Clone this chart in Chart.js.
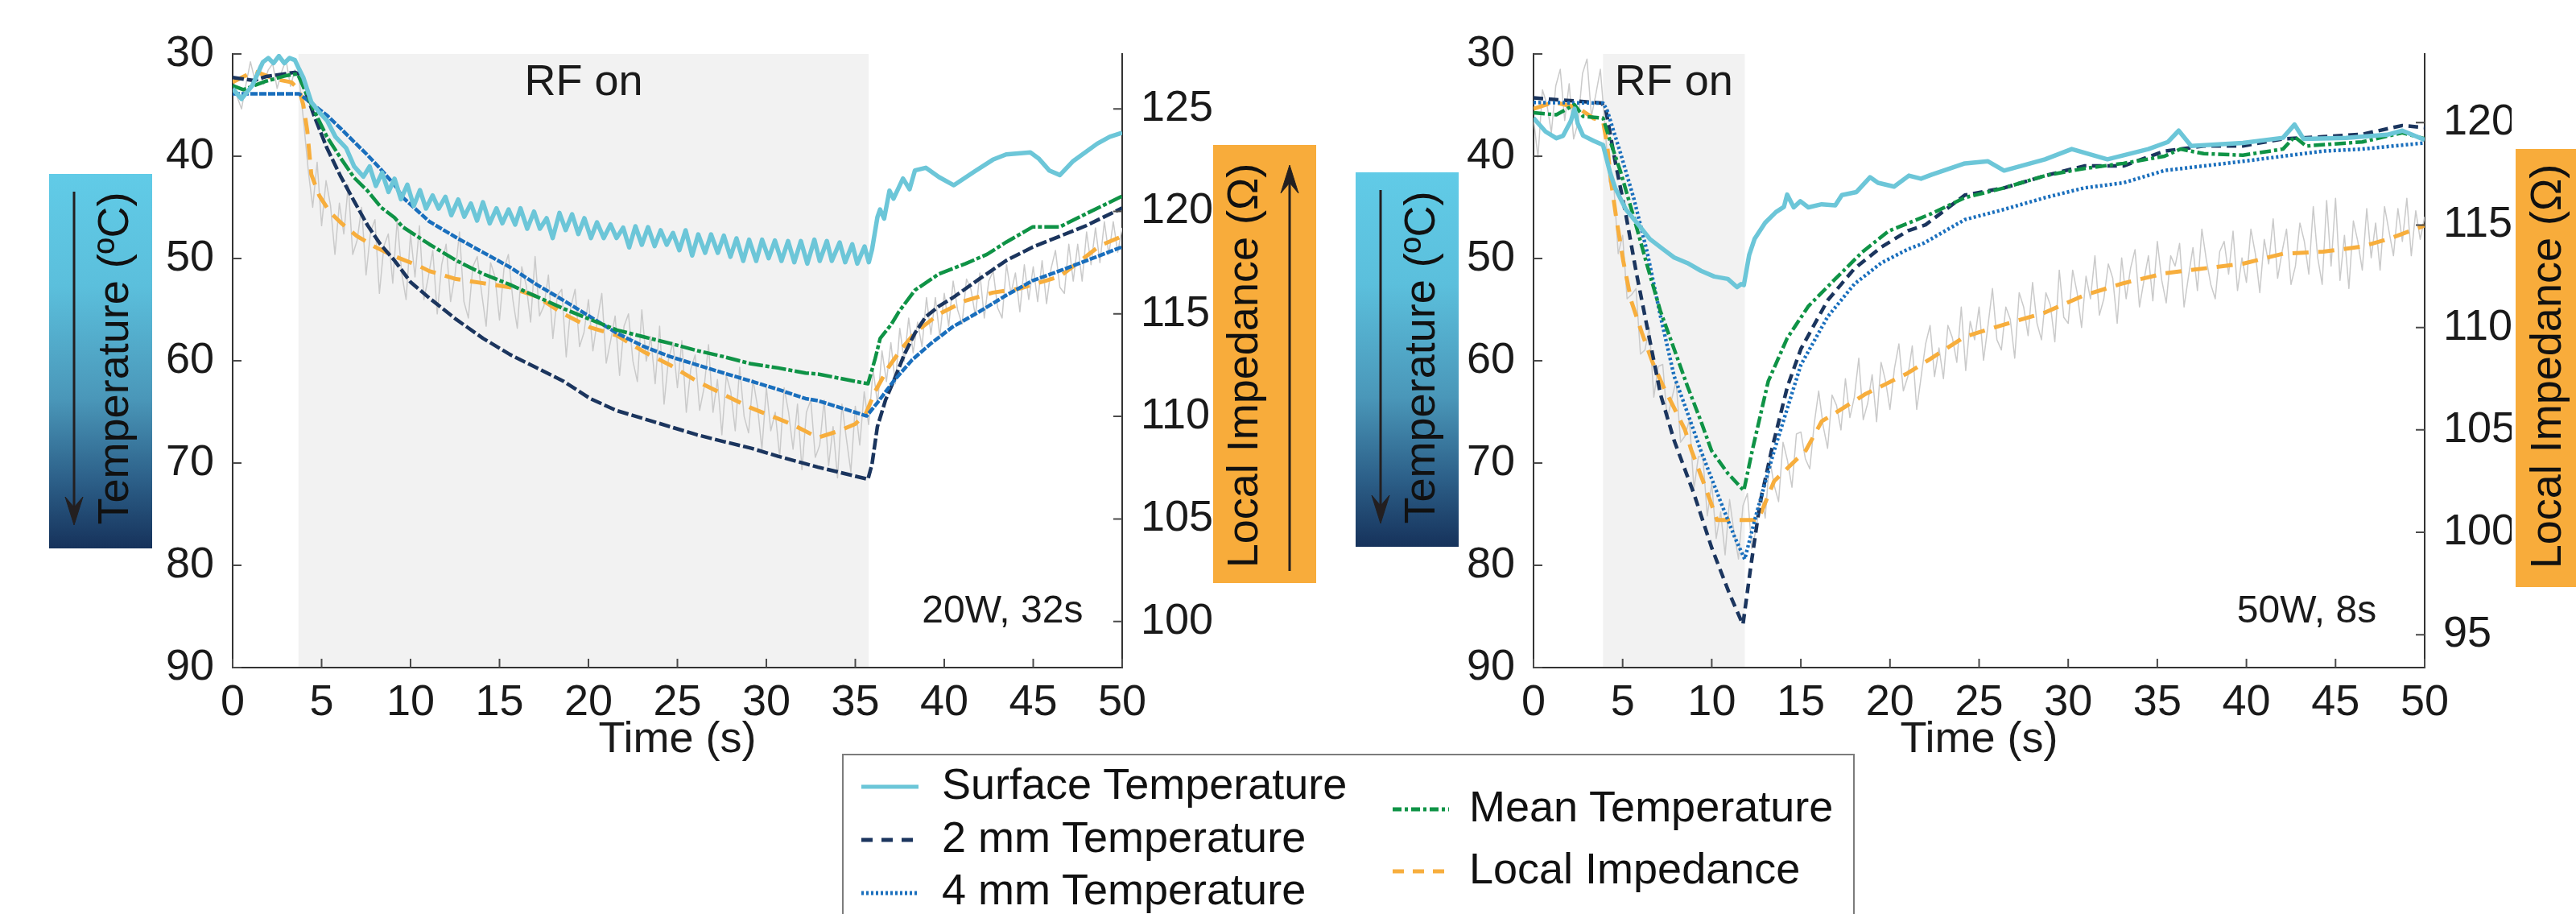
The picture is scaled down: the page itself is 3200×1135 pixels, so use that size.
<!DOCTYPE html>
<html>
<head>
<meta charset="utf-8">
<script src="https://cdn.jsdelivr.net/npm/chart.js@4.4.0/dist/chart.umd.min.js"></script>
<style>
  html, body { margin: 0; padding: 0; background: #fff; }
  body { width: 3200px; height: 1135px; position: relative; overflow: hidden;
         font-family: "Liberation Sans", Arial, Helvetica, sans-serif; color: #111; }
  canvas { position: absolute; top: 0; }
  .box { position: absolute; z-index: 2; }
  .tempBox { background: linear-gradient(to bottom, #61cbe7 0%, #5bbfdc 30%, #4a97b9 60%, #2c5f88 82%, #16325b 100%); }
  .impBox { background: #f8ac3b; }
  .vlabel { position: absolute; z-index: 3; white-space: nowrap; font-size: 54px; line-height: 54px;
            transform: translate(-50%, -50%) rotate(-90deg); color: #111; }
  .arrow { position: absolute; z-index: 3; left: 0; top: 0; }
  #legend { position: absolute; z-index: 2; left: 1046px; top: 936px; width: 1254px; height: 260px;
            border: 2px solid #7c7c7c; background: #fff; }
  .lg { position: absolute; z-index: 3; font-size: 54px; line-height: 54px; white-space: nowrap; color: #111; }
</style>
</head>
<body>
<canvas id="left" width="1640" height="960" style="left:0px"></canvas>
<canvas id="right" width="1420" height="960" style="left:1700px"></canvas>

<!-- colour-coded axis labels -->
<div class="box tempBox" style="left:61px; top:216px; width:128px; height:465px"></div>
<div class="vlabel" style="left:140px; top:445px">Temperature (ºC)</div>
<div class="box impBox" style="left:1507px; top:180px; width:128px; height:544px"></div>
<div class="vlabel" style="left:1543px; top:454px">Local Impedance (Ω)</div>

<div class="box tempBox" style="left:1684px; top:214px; width:128px; height:465px"></div>
<div class="vlabel" style="left:1763px; top:444px">Temperature (ºC)</div>
<div class="box impBox" style="left:3125px; top:185px; width:128px; height:544px"></div>
<div class="vlabel" style="left:3162px; top:455px">Local Impedance (Ω)</div>

<svg class="arrow" width="3200" height="1135">
  <g fill="#231f20" stroke="#231f20">
    <line x1="92" y1="238" x2="92" y2="636" stroke-width="3"/>
    <polygon points="92,652 81,617 92,630 103,617" stroke-width="1"/>
    <line x1="1715" y1="236" x2="1715" y2="634" stroke-width="3"/>
    <polygon points="1715,650 1704,615 1715,628 1726,615" stroke-width="1"/>
    <line x1="1602" y1="709" x2="1602" y2="221" stroke-width="3"/>
    <polygon points="1602,205 1591,240 1602,227 1613,240" stroke-width="1"/>
  </g>
</svg>

<!-- legend -->
<div id="legend"></div>
<svg class="arrow" width="3200" height="1135" style="z-index:4">
  <line x1="1070" y1="977" x2="1141" y2="977" stroke="#6cc6d8" stroke-width="5"/>
  <line x1="1070" y1="1043" x2="1141" y2="1043" stroke="#1b355e" stroke-width="5" stroke-dasharray="14 11"/>
  <line x1="1070" y1="1109" x2="1141" y2="1109" stroke="#1a6fbd" stroke-width="5" stroke-dasharray="3 3"/>
  <line x1="1730" y1="1005" x2="1800" y2="1005" stroke="#0f9346" stroke-width="5" stroke-dasharray="11 4 4 4"/>
  <line x1="1730" y1="1082" x2="1800" y2="1082" stroke="#f7ae3d" stroke-width="5" stroke-dasharray="14 11"/>
</svg>
<div class="lg" style="left:1170px; top:946px">Surface Temperature</div>
<div class="lg" style="left:1170px; top:1012px">2 mm Temperature</div>
<div class="lg" style="left:1170px; top:1077px">4 mm Temperature</div>
<div class="lg" style="left:1825px; top:974px">Mean Temperature</div>
<div class="lg" style="left:1825px; top:1051px">Local Impedance</div>

<script>
// ---- axis ticks ----
const timeTicks = [0, 5, 10, 15, 20, 25, 30, 35, 40, 45, 50];
const tempTicks = [30, 40, 50, 60, 70, 80, 90];
const leftImpTicks = [100, 105, 110, 115, 120, 125];
const rightImpTicks = [95, 100, 105, 110, 115, 120];

// ---- 20 W, 32 s ablation (left panel) ----  [time s, value]
const leftRF = [3.7, 35.75];
const leftSurface = [
  [0, 33.4], [0.5, 34.4], [1.1, 33.1], [1.7, 30.8], [2.0, 30.4], [2.3, 30.9], [2.6, 30.2], [2.9, 30.9],
  [3.2, 30.4], [3.5, 30.6], [3.74, 31.5], [3.97, 32.3], [4.42, 34.7], [4.87, 35.7], [5.3, 36.5], [5.78, 38.1],
  [6.38, 39.2], [6.83, 41.0], [7.35, 42.0], [7.7, 41.0], [8.05, 42.9], [8.4, 41.6], [8.76, 43.5], [9.1, 42.2],
  [9.46, 44.2], [9.82, 42.78], [10.18, 44.86], [10.53, 43.31], [10.87, 45.12], [11.24, 43.83], [11.58, 45.12],
  [11.96, 43.96], [12.29, 45.77], [12.68, 44.23], [13.02, 45.91], [13.39, 44.62], [13.74, 46.3], [14.07, 44.49],
  [14.45, 46.56], [14.83, 45.09], [15.16, 46.56], [15.51, 45.2], [15.88, 46.69], [16.18, 45.09], [16.56, 47.09],
  [16.94, 45.41], [17.27, 47.09], [17.65, 46.06], [17.99, 48.0], [18.37, 45.54], [18.72, 47.22], [19.08, 45.67],
  [19.43, 47.61], [19.77, 46.06], [20.14, 48.0], [20.48, 46.46], [20.86, 48.0], [21.24, 46.67], [21.58, 48.0],
  [21.95, 46.98], [22.29, 48.92], [22.64, 46.85], [23.0, 48.66], [23.35, 46.93], [23.72, 48.79], [24.06, 47.24],
  [24.4, 48.66], [24.75, 47.5], [25.11, 49.19], [25.46, 47.24], [25.83, 49.71], [26.17, 47.64], [26.56, 49.45],
  [26.89, 47.64], [27.27, 49.45], [27.61, 47.77], [27.98, 49.84], [28.32, 48.03], [28.7, 50.24], [29.03, 48.16],
  [29.43, 50.24], [29.76, 48.16], [30.13, 49.97], [30.48, 48.24], [30.85, 50.24], [31.22, 48.29], [31.57, 50.37],
  [31.94, 48.29], [32.3, 50.5], [32.7, 48.16], [33.0, 50.24], [33.4, 48.29], [33.68, 50.24], [34.12, 48.43],
  [34.43, 50.37], [34.83, 48.61], [35.11, 50.5], [35.52, 48.82], [35.76, 50.37], [35.94, 49.13], [36.24, 45.98],
  [36.39, 45.2], [36.62, 46.1], [36.92, 43.36], [37.15, 44.15], [37.68, 42.18], [38.05, 43.23], [38.35, 41.39],
  [38.96, 41.13], [39.71, 42.05], [40.54, 42.84], [41.68, 41.52], [42.73, 40.34], [43.48, 39.82], [44.84, 39.63],
  [45.3, 40.21], [45.9, 41.39], [46.5, 41.84], [47.25, 40.47], [48.6, 38.77], [49.3, 38.1], [50, 37.7]
];
const left2mm = [
  [0, 32.3], [1.2, 32.6], [1.9, 32.2], [3.5, 31.8], [3.74, 31.95], [4.57, 36.0], [5.3, 39.2], [6.08, 42.0],
  [6.83, 44.4], [7.6, 46.8], [8.3, 48.6], [9.1, 50.2], [10.0, 52.3], [11.05, 53.86], [12.57, 55.96], [14.07, 57.8],
  [15.58, 59.38], [17.09, 60.69], [18.6, 62.0], [20.1, 63.7], [21.6, 64.88], [23.1, 65.66], [24.6, 66.45],
  [26.1, 67.24], [27.6, 67.9], [29.15, 68.55], [30.66, 69.34], [32.2, 70.07], [32.9, 70.4], [35.71, 71.58],
  [35.94, 70.1], [36.24, 66.45], [36.7, 63.83], [37.15, 62.0], [37.75, 59.4], [38.35, 57.3], [38.96, 55.7],
  [39.71, 54.65], [40.46, 53.86], [41.97, 52.0], [43.48, 50.2], [44.98, 48.87], [46.5, 47.82], [48.0, 46.77], [50, 45.06]
];
const left4mm = [
  [0, 33.9], [3.74, 33.9], [4.57, 35.0], [5.3, 36.0], [6.08, 37.3], [6.83, 38.6], [7.59, 39.9], [8.34, 41.3],
  [9.1, 42.8], [9.55, 44.0], [11.05, 46.38], [12.57, 47.95], [14.07, 49.4], [15.58, 50.84], [17.09, 52.55],
  [18.6, 54.1], [20.1, 55.7], [21.6, 57.3], [23.1, 58.6], [24.6, 59.6], [26.1, 60.4], [27.6, 61.2], [29.15, 62.0],
  [30.66, 62.8], [32.2, 63.7], [32.9, 63.9], [35.64, 65.4], [36.24, 64.1], [37.15, 62.0], [38.2, 59.9],
  [39.26, 58.3], [40.46, 56.7], [41.97, 55.2], [43.48, 53.6], [44.98, 52.15], [46.5, 51.2], [48.0, 50.2], [50, 48.87]
];
const leftMean = [
  [0, 33.1], [0.6, 33.5], [1.8, 32.7], [3.05, 32.1], [3.65, 31.95], [4.57, 35.5], [5.3, 38.1], [6.08, 40.2],
  [6.83, 42.1], [7.59, 43.4], [8.34, 45.0], [9.1, 46.0], [9.55, 46.9], [11.05, 48.6], [12.57, 50.2], [14.07, 51.5],
  [15.58, 52.55], [17.09, 53.73], [18.6, 54.9], [20.1, 55.96], [21.6, 57.0], [23.1, 57.66], [24.6, 58.3],
  [26.1, 59.0], [27.6, 59.6], [29.15, 60.3], [30.66, 60.7], [32.2, 61.2], [32.9, 61.3], [35.71, 62.25],
  [36.1, 59.9], [36.4, 57.8], [37.0, 56.5], [37.45, 55.2], [38.35, 53.1], [39.71, 51.5], [41.2, 50.5],
  [42.4, 49.6], [43.48, 48.4], [44.98, 46.9], [46.5, 46.9], [48.0, 45.6], [50, 43.9]
];
const leftImpedance = [
  [0, 126.3], [1.2, 126.84], [1.8, 126.65], [2.4, 126.45], [3.3, 126.3], [3.74, 125.93], [3.97, 125.2],
  [4.2, 123.9], [4.42, 121.8], [4.87, 120.77], [5.45, 119.98], [6.08, 119.45], [6.98, 118.8], [8.0, 118.27],
  [9.1, 117.81], [10.45, 117.35], [11.05, 117.09], [12.57, 116.7], [14.07, 116.5], [15.58, 116.3],
  [17.09, 115.85], [18.6, 115.0], [20.1, 114.34], [21.6, 113.95], [23.1, 113.16], [24.6, 112.5], [26.1, 111.72],
  [27.6, 111.07], [29.15, 110.41], [30.66, 109.89], [31.4, 109.63], [32.9, 108.97], [34.1, 109.3], [35.0, 109.63],
  [35.6, 110.15], [36.1, 111.2], [36.85, 112.38], [37.6, 113.3], [38.35, 114.08], [39.71, 115.0], [41.2, 115.65],
  [42.73, 116.04], [44.24, 116.24], [45.74, 116.63], [46.5, 116.83], [47.7, 117.62], [48.75, 118.33], [50, 118.79]
];
// raw impedance, sampled every 0.25 s from t = 0
const leftRawImpedance = [
  126.5, 125.6, 125.0, 126.2, 127.3, 126.4, 127.1, 126.2, 126.9, 127.2, 126.0, 126.8, 127.4, 126.1, 126.9, 126.4, 124.3, 122.0, 120.2, 122.4,
  119.3, 121.5, 120.3, 117.9, 120.4, 118.9, 121.3, 117.9, 118.6, 120.2, 116.9, 119.0, 119.6, 116.0, 118.3, 118.9, 116.5, 119.6, 117.0, 115.7,
  118.9, 116.8, 119.3, 115.7, 116.8, 118.1, 115.0, 117.4, 118.4, 115.6, 116.9, 119.0, 115.6, 114.8, 117.3, 117.8, 116.0, 114.4, 117.5, 116.8,
  114.7, 117.2, 117.9, 115.7, 114.3, 117.3, 116.4, 114.6, 117.8, 114.9, 115.4, 116.9, 113.8, 115.9, 116.2, 112.9, 115.3, 116.2, 113.4, 114.1,
  115.7, 113.2, 114.7, 116.0, 112.6, 113.7, 114.9, 112.0, 114.4, 115.0, 112.7, 111.7, 115.2, 112.7, 113.9, 111.6, 114.4, 110.6, 112.8, 113.6,
  111.4, 113.7, 110.2, 112.3, 113.0, 110.3, 111.4, 113.5, 110.2, 111.8, 109.1, 112.0, 111.2, 109.3, 112.4, 110.0, 109.2, 111.8, 110.5, 108.4,
  111.4, 109.3, 110.2, 108.0, 111.4, 110.2, 108.4, 110.6, 107.4, 110.2, 110.8, 108.0, 108.6, 110.8, 107.6, 109.5, 107.0, 110.6, 108.9, 107.3,
  110.5, 108.6, 111.2, 109.6, 112.3, 110.6, 113.2, 111.7, 113.6, 111.6, 114.3, 112.7, 114.8, 113.1, 114.6, 113.4, 115.8, 114.0, 115.8, 113.9,
  116.0, 114.4, 116.6, 115.2, 114.5, 116.7, 116.2, 114.9, 117.0, 114.8, 116.6, 117.1, 115.3, 114.8, 117.4, 116.0, 117.0, 115.1, 117.4, 115.7,
  117.3, 115.6, 117.6, 115.5, 117.2, 118.1, 116.3, 116.0, 118.4, 116.6, 118.4, 116.6, 119.0, 117.4, 119.2, 117.5, 119.5, 117.9, 119.5, 118.0,
  119.2
];

// ---- 50 W, 8 s ablation (right panel) ----
const rightRF = [3.9, 11.85];
const rightSurface = [
  [0, 36.27], [0.68, 37.6], [1.28, 38.24], [1.66, 38.0], [2.11, 36.5], [2.3, 35.35], [2.48, 36.8], [2.78, 37.98],
  [3.38, 38.5], [3.9, 38.9], [4.28, 41.5], [4.58, 43.1], [5.18, 45.2], [5.93, 46.8], [6.53, 48.1], [7.28, 49.1],
  [7.89, 49.9], [8.64, 50.45], [9.39, 51.2], [10.14, 51.76], [10.9, 52.0], [11.42, 52.8], [11.65, 52.5],
  [11.8, 52.6], [12.1, 49.66], [12.4, 48.1], [13.0, 46.5], [13.6, 45.46], [14.05, 44.95], [14.23, 43.75],
  [14.6, 45.0], [14.97, 44.4], [15.42, 45.0], [16.17, 44.7], [16.93, 44.8], [17.3, 43.8], [18.12, 43.5],
  [18.88, 42.05], [19.33, 42.6], [20.23, 42.97], [21.06, 41.9], [21.74, 42.2], [22.34, 41.8], [24.2, 40.7],
  [25.5, 40.5], [26.4, 41.4], [28.7, 40.3], [30.2, 39.3], [32.2, 40.3], [34.5, 39.3], [35.6, 38.6], [36.2, 37.5],
  [36.9, 39.0], [39.8, 38.7], [42.05, 38.2], [42.7, 36.9], [43.2, 38.3], [45.6, 38.2], [47.9, 37.9],
  [48.75, 37.5], [50, 38.4]
];
const right2mm = [
  [0, 34.3], [3.83, 34.8], [4.06, 35.5], [4.58, 40.5], [5.18, 45.7], [5.78, 51.5], [6.38, 56.75], [7.13, 63.3],
  [7.89, 67.8], [9.0, 73.0], [10.0, 78.3], [11.0, 82.8], [11.75, 85.8], [12.2, 80.0], [12.7, 74.0], [13.35, 68.8],
  [14.25, 62.5], [15.0, 58.85], [16.5, 54.1], [18.0, 51.0], [19.5, 48.9], [21.0, 47.3], [22.0, 46.7], [24.2, 43.8],
  [26.4, 43.1], [28.7, 41.9], [30.9, 40.95], [33.1, 40.95], [35.4, 39.5], [37.6, 39.0], [39.8, 39.0], [42.05, 38.3],
  [44.3, 38.1], [46.5, 37.85], [48.75, 37.0], [50, 37.2]
];
const right4mm = [
  [0, 34.75], [3.9, 34.8], [4.13, 35.5], [4.88, 39.7], [5.63, 44.15], [6.38, 49.4], [7.13, 55.7], [7.89, 61.5],
  [8.64, 65.1], [9.39, 68.8], [10.5, 73.8], [11.3, 77.3], [11.85, 79.4], [12.5, 75.0], [13.5, 68.8], [14.25, 64.6],
  [15.0, 60.4], [16.5, 55.7], [18.0, 52.5], [19.5, 50.45], [21.0, 49.1], [21.9, 48.5], [24.2, 46.2], [26.4, 45.2],
  [28.7, 44.05], [30.9, 43.1], [33.1, 42.6], [35.4, 41.4], [37.6, 40.95], [39.8, 40.5], [42.05, 40.0],
  [44.3, 39.5], [46.5, 39.3], [50, 38.7]
];
const rightMean = [
  [0, 35.75], [1.28, 35.95], [2.3, 34.96], [2.78, 36.1], [3.9, 36.27], [4.28, 38.4], [4.88, 41.5], [5.63, 46.0],
  [6.38, 50.7], [7.13, 55.2], [7.89, 58.85], [8.64, 62.5], [9.39, 65.9], [9.99, 68.8], [10.9, 71.0], [11.8, 72.7],
  [12.27, 68.8], [13.17, 62.0], [14.23, 57.8], [15.43, 54.65], [16.93, 52.0], [18.43, 49.4], [19.94, 47.3],
  [21.44, 46.25], [22.34, 45.6], [24.2, 44.05], [26.4, 43.1], [28.7, 41.9], [30.9, 41.2], [33.1, 40.7],
  [35.4, 40.0], [36.3, 39.3], [37.6, 39.75], [39.8, 39.9], [42.05, 39.3], [42.7, 38.1], [43.35, 39.0],
  [46.5, 38.6], [48.75, 37.7], [50, 38.3]
];
const rightImpedance = [
  [0, 120.67], [1.13, 121.0], [2.48, 120.73], [3.38, 120.2], [3.9, 120.08], [4.13, 118.9], [4.36, 117.07],
  [4.66, 115.24], [5.03, 113.27], [5.48, 111.3], [6.08, 109.74], [6.68, 108.3], [7.28, 107.12], [7.89, 106.07],
  [8.49, 105.02], [8.86, 104.0], [9.6, 102.3], [10.3, 100.6], [12.6, 100.6], [13.5, 102.5], [15.28, 104.0],
  [16.17, 105.42], [17.38, 106.07], [18.58, 106.73], [19.79, 107.25], [20.99, 107.77], [22.2, 108.43],
  [24.2, 109.55], [26.4, 110.14], [28.7, 110.73], [30.9, 111.57], [33.1, 112.16], [35.4, 112.64], [37.6, 112.88],
  [39.8, 113.11], [42.05, 113.6], [44.3, 113.7], [46.5, 113.95], [47.9, 114.3], [50, 114.97]
];
const rightRawImpedance = [
  120.2, 118.3, 121.6, 120.9, 119.5, 121.8, 122.6, 120.1, 121.9, 119.2, 120.0, 122.4, 123.1, 120.3, 121.4, 122.6, 119.9, 117.1, 117.0, 113.6,
  114.5, 111.4, 111.6, 111.9, 108.7, 108.9, 110.0, 106.6, 108.1, 108.2, 105.5, 106.5, 107.4, 104.4, 104.7, 105.5, 102.1, 103.7, 103.7, 100.8,
  102.4, 99.7, 101.0, 98.9, 101.6, 100.0, 98.7, 101.3, 101.9, 99.2, 100.2, 102.0, 100.7, 103.6, 102.3, 101.5, 104.4, 103.5, 102.2, 104.8,
  104.9, 103.6, 103.1, 105.3, 106.9, 105.2, 104.1, 106.7, 106.2, 105.0, 107.5, 105.6, 106.6, 108.5, 105.5, 106.3, 107.7, 105.4, 108.3, 107.4,
  106.0, 108.0, 109.2, 106.9, 107.6, 109.1, 106.0, 107.6, 109.2, 110.1, 107.6, 109.0, 107.5, 110.1, 109.5, 108.3, 111.0, 107.9, 110.3, 109.4,
  111.0, 108.4, 110.1, 111.9, 109.4, 108.9, 111.0, 110.4, 108.5, 111.7, 111.0, 109.6, 112.2, 110.2, 109.4, 111.7, 111.1, 109.3, 112.8, 110.5,
  110.2, 112.8, 111.7, 110.0, 112.5, 111.4, 113.5, 110.6, 111.4, 113.1, 112.4, 110.2, 113.4, 111.4, 112.9, 113.8, 111.0, 112.3, 113.5, 111.3,
  114.2, 112.3, 111.2, 113.5, 113.0, 114.1, 111.0, 112.5, 113.9, 111.8, 114.8, 113.3, 112.1, 111.4, 113.7, 114.2, 112.6, 114.7, 111.8, 113.4,
  112.2, 114.8, 113.6, 111.7, 114.3, 113.1, 115.3, 112.4, 113.7, 114.8, 112.1, 113.0, 115.1, 114.2, 112.6, 115.9, 113.4, 112.1, 116.2, 113.0,
  116.3, 112.3, 114.5, 111.9, 115.2, 114.2, 112.8, 115.8, 113.4, 115.1, 112.8, 115.9, 114.7, 113.5, 115.8, 114.2, 116.3, 113.5, 115.7, 114.3,
  115.4
];
const rawStep = 0.25;

const FONT = '"Liberation Sans", Arial, Helvetica, sans-serif';
const INK = '#1a1a1a';

/**
 * Grey "RF on" window, drawn under everything
 */
const rfShade = {
  id: 'rfShade',
  beforeDraw(chart, args, opts) {
    const {ctx, chartArea: a, scales: {x}} = chart;
    const x0 = x.getPixelForValue(opts.from);
    const x1 = x.getPixelForValue(opts.to);
    ctx.save();
    ctx.fillStyle = '#f2f2f2';
    ctx.fillRect(x0, a.top, x1 - x0, a.bottom - a.top);
    ctx.restore();
  }
};

/**
 * MATLAB-style inward tick marks plus the text annotations
 */
const decorations = {
  id: 'decorations',
  afterDraw(chart, args, opts) {
    const {ctx, chartArea: a, scales} = chart;
    ctx.save();
    ctx.strokeStyle = '#4a4a4a';
    ctx.lineWidth = 2;
    ctx.beginPath();
    ['x', 'y', 'y2'].forEach(id => {
      const s = scales[id];
      s.ticks.forEach(t => {
        const p = s.getPixelForValue(t.value);
        if (id === 'x') { ctx.moveTo(p, a.bottom); ctx.lineTo(p, a.bottom - 11); }
        else if (id === 'y') { ctx.moveTo(a.left, p); ctx.lineTo(a.left + 11, p); }
        else { ctx.moveTo(a.right, p); ctx.lineTo(a.right - 11, p); }
      });
    });
    ctx.stroke();

    ctx.fillStyle = INK;
    ctx.textBaseline = 'alphabetic';
    ctx.font = '54px ' + FONT;
    ctx.textAlign = 'center';
    const xs = scales.x;
    ctx.fillText('RF on', (xs.getPixelForValue(opts.rf[0]) + xs.getPixelForValue(opts.rf[1])) / 2, a.top + 51);
    ctx.font = '48px ' + FONT;
    ctx.textAlign = 'right';
    ctx.fillText(opts.note, xs.getPixelForValue(opts.noteAt), scales.y.getPixelForValue(85.6));
    ctx.restore();
  }
};

function pts(pairs) {
  return pairs.map(p => ({x: p[0], y: p[1]}));
}

function sampled(values) {
  return values.map((v, i) => ({x: i * rawStep, y: v}));
}

function line(data, color, width, dash, axis) {
  return {
    data: data,
    borderColor: color,
    borderWidth: width,
    borderDash: dash || [],
    borderJoinStyle: 'round',
    pointRadius: 0,
    fill: false,
    tension: 0,
    yAxisID: axis || 'y'
  };
}

function tickFont() {
  return {family: FONT, size: 54};
}

/**
 * Build one panel
 */
function makePanel(canvasId, s, opts) {
  const canvas = document.getElementById(canvasId);
  return new Chart(canvas, {
    type: 'line',
    data: {
      datasets: [
        line(pts(s.surface), '#6cc6d8', 5.5),
        line(pts(s.mean), '#0f9346', 4.5, opts.dash.mean),
        line(pts(s.mm4), '#1a6fbd', 4.5, opts.dash.mm4),
        line(pts(s.mm2), '#1b355e', 4.5, opts.dash.mm2),
        line(pts(s.imp), '#f7ae3d', 5, [20, 12], 'y2'),
        line(sampled(s.raw), '#cacaca', 1.5, null, 'y2')
      ]
    },
    options: {
      responsive: false,
      devicePixelRatio: 1,
      animation: false,
      layout: {padding: {top: 67, left: 0, right: 0, bottom: 0}},
      plugins: {
        legend: {display: false},
        tooltip: {enabled: false},
        rfShade: {from: opts.rf[0], to: opts.rf[1]},
        decorations: {rf: opts.rf, note: opts.note, noteAt: opts.noteAt}
      },
      scales: {
        x: {
          type: 'linear', min: 0, max: 50,
          afterBuildTicks: sc => { sc.ticks = timeTicks.map(v => ({value: v})); },
          afterFit: sc => { sc.height = 131; },
          grid: {display: false},
          border: {display: true, color: '#333', width: 2},
          ticks: {font: tickFont(), color: INK, padding: 4, maxRotation: 0, autoSkip: false},
          title: {display: true, text: 'Time (s)', font: tickFont(), color: INK, padding: {top: 0, bottom: 8}}
        },
        y: {
          type: 'linear', position: 'left', reverse: true, min: 30, max: 90,
          afterBuildTicks: sc => { sc.ticks = tempTicks.map(v => ({value: v})); },
          afterFit: sc => { sc.width = opts.leftW; },
          grid: {display: false},
          border: {display: true, color: '#333', width: 2},
          ticks: {font: tickFont(), color: INK, padding: 15, autoSkip: false}
        },
        y2: {
          type: 'linear', position: 'right', min: opts.impRange[0], max: opts.impRange[1],
          afterBuildTicks: sc => { sc.ticks = opts.impTicks.map(v => ({value: v})); },
          afterFit: sc => { sc.width = opts.rightW; },
          grid: {display: false},
          border: {display: true, color: '#333', width: 2},
          ticks: {font: tickFont(), color: INK, padding: 15, autoSkip: false}
        }
      }
    },
    plugins: [rfShade, decorations]
  });
}

makePanel('left',
  {surface: leftSurface, mean: leftMean, mm4: left4mm, mm2: left2mm, imp: leftImpedance, raw: leftRawImpedance},
  {rf: leftRF, note: '20W, 32s', noteAt: 47.8, impRange: [97.75, 127.68], impTicks: leftImpTicks,
   leftW: 289, rightW: 246, dash: {mean: [18, 3, 5, 3], mm4: [9, 2], mm2: [14, 4]}});

makePanel('right',
  {surface: rightSurface, mean: rightMean, mm4: right4mm, mm2: right2mm, imp: rightImpedance, raw: rightRawImpedance},
  {rf: rightRF, note: '50W, 8s', noteAt: 47.3, impRange: [93.4, 123.35], impTicks: rightImpTicks,
   leftW: 205, rightW: 108, dash: {mean: [14, 4, 4, 4], mm4: [3, 3], mm2: [12, 7]}});
</script>
</body>
</html>
